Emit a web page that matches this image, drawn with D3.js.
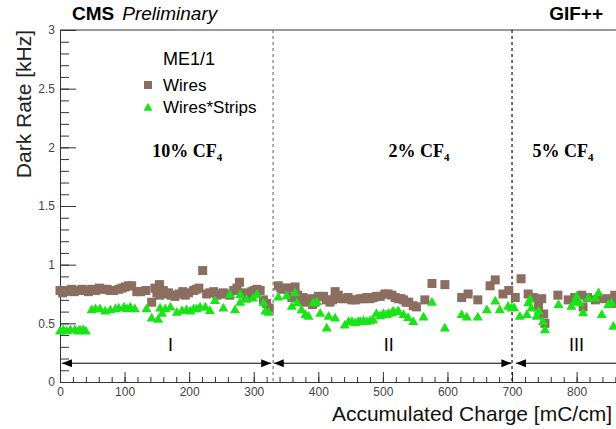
<!DOCTYPE html>
<html lang="en">
<head>
  <meta charset="UTF-8">
  <script src="https://d3js.org/d3.v7.min.js"></script>
  <title>Dark Rate</title>
  <style>
    body { margin: 0; background: #fff; }
  </style>
</head>
<body>
  <script>
    // Wires (brown squares)
    const wiresX = [0, 4, 8, 12, 18, 22, 29, 34, 39, 44, 49, 55, 61, 66, 73, 78, 83, 91, 96, 101, 106, 111, 119, 125, 133, 142, 147, 150,
      154, 154, 160, 163, 168, 172, 178, 184, 190, 194, 199, 207, 211, 215, 221, 227, 232, 238, 243, 248, 253, 258, 263, 269, 274, 278,
      284, 289, 293, 297, 301, 305, 310, 315, 320, 324,
      338, 342, 346, 351, 355, 359, 364, 368, 372, 376, 380, 384, 387, 391, 395, 400, 408, 412, 418, 422, 426, 431, 436, 441, 446, 452,
      458, 465, 470, 475, 480, 485, 490, 496, 503, 508, 514, 519, 524, 528, 532, 536, 540, 547, 552, 565, 576, 596,
      622, 632, 647, 666, 674, 686, 695, 705, 714, 725, 733, 741, 746, 749, 751, 771, 787, 797, 808, 810, 817, 829, 839, 852, 856, 859]
    const wiresY = [0.78, 0.76, 0.77, 0.78, 0.79, 0.77, 0.78, 0.79, 0.78, 0.77, 0.79, 0.78, 0.80, 0.79, 0.79, 0.78, 0.78, 0.79, 0.80, 0.81, 0.82, 0.82, 0.77, 0.77, 0.78, 0.68, 0.80, 0.76,
      0.83, 0.74, 0.78, 0.75, 0.76, 0.74, 0.73, 0.75, 0.77, 0.74, 0.76, 0.78, 0.79, 0.80, 0.95, 0.75, 0.76, 0.77, 0.74, 0.75, 0.76, 0.75, 0.74, 0.78, 0.80, 0.85,
      0.76, 0.73, 0.75, 0.77, 0.78, 0.79, 0.78, 0.70, 0.67, 0.63,
      0.82, 0.80, 0.79, 0.80, 0.80, 0.72, 0.81, 0.74, 0.70, 0.72, 0.68, 0.70, 0.71, 0.66, 0.68, 0.73, 0.73, 0.70, 0.68, 0.70, 0.77, 0.74, 0.71, 0.71, 0.72, 0.70,
      0.70, 0.71, 0.71, 0.72, 0.71, 0.72, 0.73, 0.73, 0.75, 0.75, 0.74, 0.72, 0.71, 0.71, 0.70, 0.68, 0.68, 0.65, 0.64, 0.70, 0.84, 0.83,
      0.72, 0.75, 0.70, 0.82, 0.87, 0.75, 0.78, 0.72, 0.88, 0.75, 0.72, 0.65, 0.71, 0.58, 0.50, 0.74, 0.70, 0.72, 0.74, 0.64, 0.72, 0.70, 0.71, 0.71, 0.67, 0.74]

    // Wires*Strips (green triangles)
    const stripsX = [0, 5, 10, 16, 23, 28, 31, 36, 40, 49, 55, 62, 70, 78, 86, 91, 99, 104, 109, 116, 134, 142, 152, 155, 158, 163, 171, 181,
      189, 196, 202, 207, 212, 217, 225, 232, 240, 253, 263, 271, 279, 279, 289, 299, 305, 315, 318, 323,
      338, 351, 359, 364, 367, 374, 380, 385, 392, 398, 403, 413, 416, 426, 441, 447, 452, 457, 462, 465, 470, 475, 480, 485, 490, 496,
      501, 506, 509, 514, 516, 523, 524, 532, 539, 547, 563, 576, 596, 622, 630, 647, 661, 674, 681, 694,
      699, 703, 712, 723, 725, 728, 730, 738, 741, 748, 751, 772, 792, 797, 800, 805, 810, 818, 829, 834, 839, 849, 854, 857]
    const stripsY = [0.43, 0.44, 0.43, 0.44, 0.44, 0.43, 0.44, 0.44, 0.43, 0.61, 0.62, 0.62, 0.60, 0.61, 0.62, 0.625, 0.635, 0.62, 0.635, 0.62, 0.62, 0.54, 0.53, 0.625, 0.58, 0.62, 0.635, 0.59,
      0.605, 0.61, 0.60, 0.62, 0.62, 0.635, 0.635, 0.605, 0.69, 0.625, 0.74, 0.61, 0.74, 0.675, 0.70, 0.71, 0.74, 0.67, 0.60, 0.59,
      0.72, 0.73, 0.64, 0.755, 0.67, 0.61, 0.57, 0.555, 0.67, 0.68, 0.58, 0.455, 0.555, 0.54, 0.48, 0.51, 0.51, 0.50, 0.51, 0.51, 0.52, 0.51, 0.52, 0.525, 0.58, 0.56,
      0.58, 0.57, 0.58, 0.585, 0.60, 0.595, 0.60, 0.57, 0.545, 0.51, 0.55, 0.675, 0.455, 0.57, 0.55, 0.55, 0.61, 0.685, 0.61, 0.64,
      0.625, 0.63, 0.555, 0.57, 0.67, 0.70, 0.625, 0.555, 0.60, 0.51, 0.44, 0.655, 0.64, 0.68, 0.725, 0.67, 0.585, 0.71, 0.71, 0.755, 0.57, 0.655, 0.67, 0.47]

    const yTicks = [0, 0.5, 1, 1.5, 2, 2.5, 3]
    const xTicks = [0, 100, 200, 300, 400, 500, 600, 700, 800]

    // periods of gas mixture
    const dividers = [330, 700]
    const periodSpans = [[3, 327], [331, 699], [706, 1000]]
    const periodNames = ["I", "II", "III"]
    const periodCenters = [171, 509, 800]
    const gasPercent = ["10%", "2%", "5%"]
    const gasCenters = [197, 556, 779]

    let dimension = {
      width: 616,
      height: 429,
      margin: { top: 30, right: 0, bottom: 47, left: 60 }
    }
    dimension.boundedWidth = dimension.width - dimension.margin.left - dimension.margin.right
    dimension.boundedHeight = dimension.height - dimension.margin.top - dimension.margin.bottom

    const svg = d3.select("body")
      .append("svg")
      .attr("width", dimension.width)
      .attr("height", dimension.height)
      .style("font-family", "Arial, 'Liberation Sans', sans-serif")

    const defs = svg.append("defs")
    defs.append("marker")
      .attr("id", "head")
      .attr("viewBox", "0 0 10 8")
      .attr("refX", 10).attr("refY", 4)
      .attr("markerWidth", 10).attr("markerHeight", 8)
      .attr("markerUnits", "userSpaceOnUse")
      .attr("orient", "auto-start-reverse")
      .append("path")
      .attr("d", "M0,0 L10,4 L0,8 Z")
      .attr("fill", "#000")

    const bounds = svg.append("g")
      .attr("transform", `translate(${dimension.margin.left}, ${dimension.margin.top})`)

    const xScale = d3.scaleLinear()
      .domain([0, 861])
      .range([0, dimension.boundedWidth])

    const yScale = d3.scaleLinear()
      .domain([0, 3])
      .range([dimension.boundedHeight, 0])

    // frame
    bounds.append("line")
      .attr("x1", 0).attr("x2", dimension.boundedWidth)
      .attr("y1", 0).attr("y2", 0)
      .attr("stroke", "#333")

    // x axis (ticks inside)
    const xAxis = bounds.append("g")
      .attr("transform", `translate(0, ${dimension.boundedHeight})`)
      .call(d3.axisBottom(xScale).tickValues(xTicks).tickSizeInner(-10).tickSizeOuter(0).tickPadding(5))
    bounds.append("g")
      .attr("transform", `translate(0, ${dimension.boundedHeight})`)
      .call(d3.axisBottom(xScale).tickValues(d3.range(0, 861, 20)).tickSize(-5).tickFormat(""))
      .call(g => g.select(".domain").remove())

    // y axis (ticks inside)
    const yAxis = bounds.append("g")
      .call(d3.axisLeft(yScale).tickValues(yTicks).tickFormat(d => String(d)).tickSizeInner(-16).tickSizeOuter(0).tickPadding(5))
    bounds.append("g")
      .call(d3.axisLeft(yScale).tickValues(d3.range(0, 3.01, 0.1)).tickSize(-9).tickFormat(""))
      .call(g => g.select(".domain").remove())

    svg.selectAll(".tick line, .domain").attr("stroke", "#333")
    svg.selectAll(".tick text").attr("fill", "#444").style("font-size", "12px")

    // dashed dividers
    bounds.selectAll(".divider")
      .data(dividers)
      .join("line")
      .attr("x1", d => xScale(d)).attr("x2", d => xScale(d))
      .attr("y1", 0).attr("y2", dimension.boundedHeight)
      .attr("stroke", (d, i) => i === 0 ? "#777" : "#111")
      .attr("stroke-width", 1.2)
      .attr("stroke-dasharray", "3,3")

    // arrows
    bounds.selectAll(".span")
      .data(periodSpans)
      .join("line")
      .attr("x1", d => xScale(d[0])).attr("x2", d => xScale(d[1]))
      .attr("y1", yScale(0.16)).attr("y2", yScale(0.16))
      .attr("stroke", "#000")
      .attr("stroke-width", 1)
      .attr("marker-start", "url(#head)")
      .attr("marker-end", (d, i) => i < 2 ? "url(#head)" : null)

    bounds.selectAll(".period")
      .data(periodNames)
      .join("text")
      .attr("x", (d, i) => xScale(periodCenters[i]))
      .attr("y", yScale(0.16) - 12)
      .attr("text-anchor", "middle")
      .style("font-size", "18px")
      .text(d => d)

    // gas labels
    const gas = bounds.selectAll(".gas")
      .data(gasPercent)
      .join("text")
      .attr("x", (d, i) => xScale(gasCenters[i]))
      .attr("y", yScale(1.92))
      .attr("text-anchor", "middle")
      .style("font-family", "'Liberation Serif', 'Times New Roman', serif")
      .style("font-weight", "bold")
      .style("font-size", "18px")
    gas.append("tspan").text(d => d + " CF")
    gas.append("tspan").attr("dy", 4).style("font-size", "11px").text("4")

    // points
    const wires = wiresX.map((x, i) => [x, wiresY[i]])
    const strips = stripsX.map((x, i) => [x, stripsY[i]])

    bounds.append("g")
      .selectAll("rect")
      .data(wires)
      .join("rect")
      .attr("x", d => xScale(d[0]) - 4.5)
      .attr("y", d => yScale(d[1]) - 4.5)
      .attr("width", 9).attr("height", 9)
      .attr("fill", "#8b6e60")

    const tri = d3.symbol(d3.symbolTriangle, 44)
    bounds.append("g")
      .selectAll("path")
      .data(strips)
      .join("path")
      .attr("d", tri)
      .attr("transform", d => `translate(${xScale(d[0])}, ${yScale(d[1])})`)
      .attr("fill", "#18e418")

    // legend
    svg.append("text")
      .attr("x", 163).attr("y", 65)
      .style("font-size", "18px")
      .text("ME1/1")
    svg.append("rect")
      .attr("x", 144).attr("y", 81).attr("width", 8).attr("height", 8)
      .attr("fill", "#8b6e60")
    svg.append("text")
      .attr("x", 163).attr("y", 91)
      .style("font-size", "17px")
      .text("Wires")
    svg.append("path")
      .attr("d", d3.symbol(d3.symbolTriangle, 36))
      .attr("transform", "translate(148, 108)")
      .attr("fill", "#18e418")
    svg.append("text")
      .attr("x", 163).attr("y", 113)
      .style("font-size", "17px")
      .text("Wires*Strips")

    // titles
    const head = svg.append("text")
      .attr("x", 72).attr("y", 20)
      .style("font-size", "19px")
    head.append("tspan").style("font-weight", "bold").text("CMS")
    head.append("tspan").attr("dx", 8).style("font-style", "italic").text("Preliminary")

    svg.append("text")
      .attr("x", 603).attr("y", 20)
      .attr("text-anchor", "end")
      .style("font-size", "19px")
      .style("font-weight", "bold")
      .text("GIF++")

    svg.append("text")
      .attr("transform", "translate(31, 30) rotate(-90)")
      .attr("text-anchor", "end")
      .style("font-size", "21px")
      .attr("fill", "#222")
      .text("Dark Rate [kHz]")

    svg.append("text")
      .attr("x", 612).attr("y", 421)
      .attr("text-anchor", "end")
      .style("font-size", "21px")
      .attr("fill", "#111")
      .text("Accumulated Charge [mC/cm]")
  </script>
</body>
</html>
